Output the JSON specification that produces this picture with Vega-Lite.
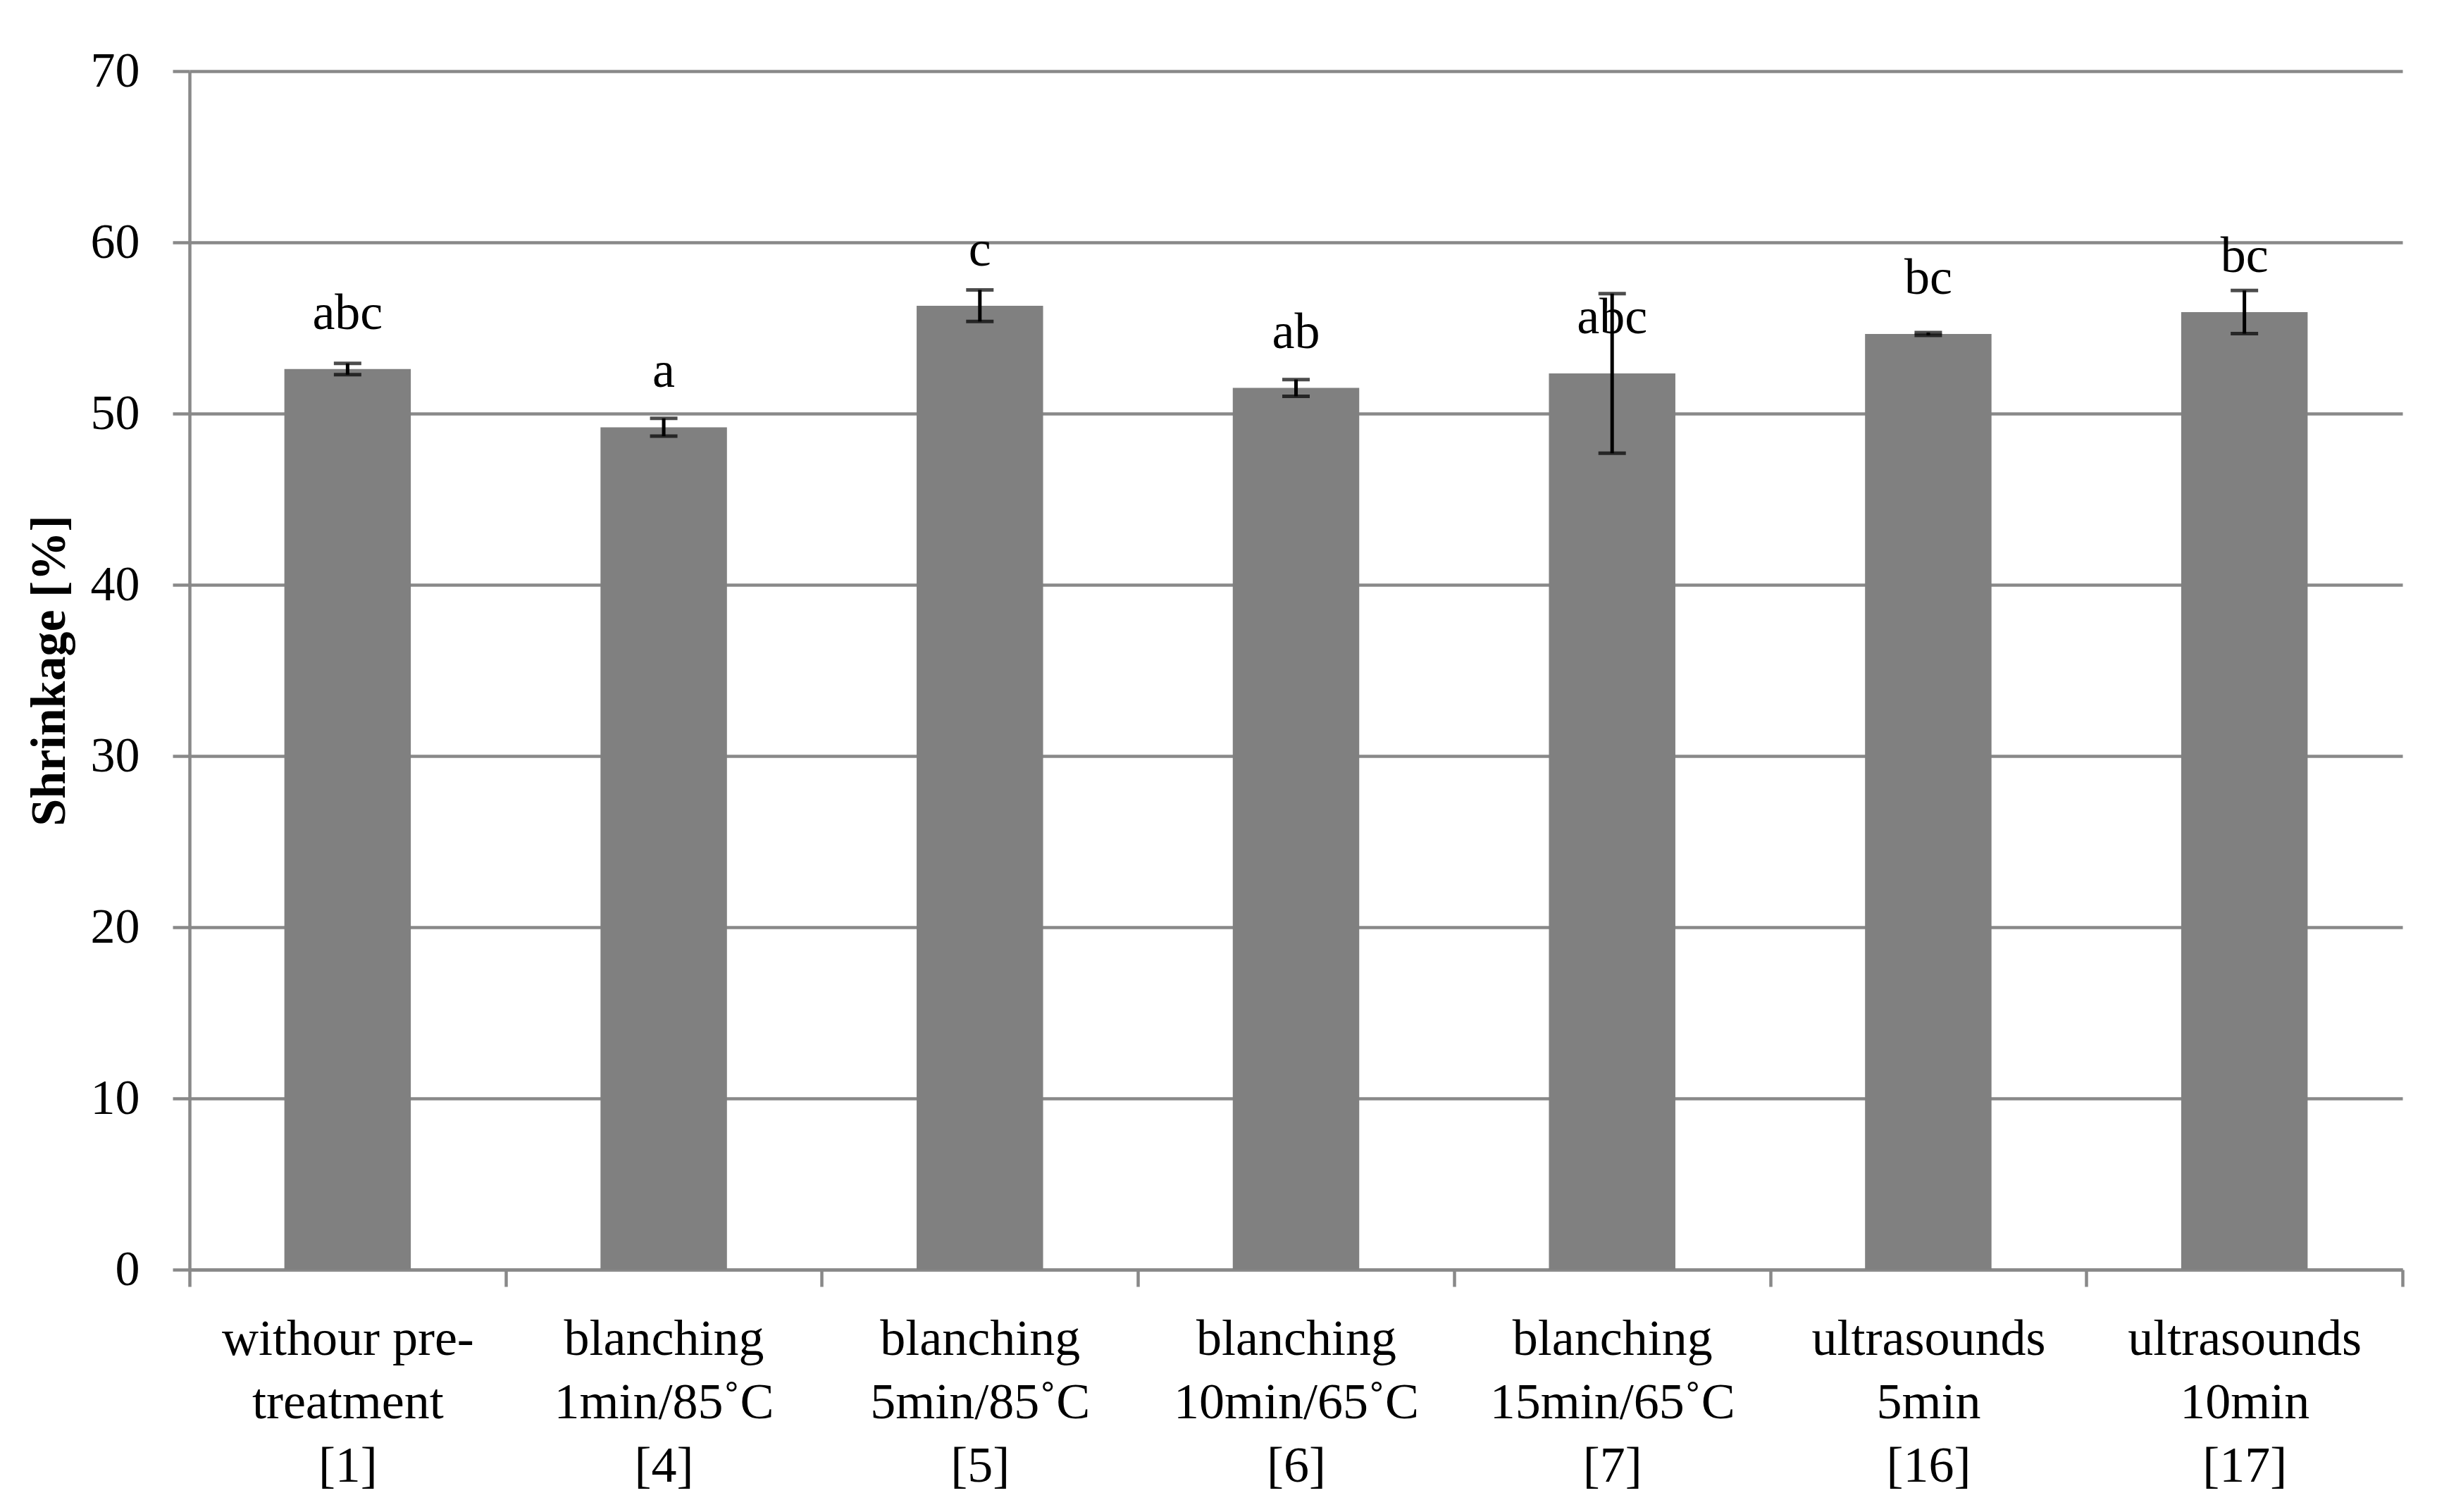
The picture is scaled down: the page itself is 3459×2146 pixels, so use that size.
{
  "$schema": "https://vega.github.io/schema/vega-lite/v6.json",
  "width": 3141,
  "height": 1701,
  "autosize": "none",
  "padding": {"left": 269, "top": 101, "right": 49, "bottom": 344},
  "background": "white",
  "config": {"view": {"stroke": null}, "font": "Liberation Serif"},
  "data": {
    "values": [
      {"treatment": "withour pre-\ntreatment\n[1]", "shrinkage": 52.6, "sd": 0.33, "group": "abc"},
      {"treatment": "blanching\n1min/85˚C\n[4]", "shrinkage": 49.2, "sd": 0.52, "group": "a"},
      {"treatment": "blanching\n5min/85˚C\n[5]", "shrinkage": 56.3, "sd": 0.92, "group": "c"},
      {"treatment": "blanching\n10min/65˚C\n[6]", "shrinkage": 51.5, "sd": 0.49, "group": "ab"},
      {"treatment": "blanching\n15min/65˚C\n[7]", "shrinkage": 52.35, "sd": 4.66, "group": "abc"},
      {"treatment": "ultrasounds\n5min\n[16]", "shrinkage": 54.65, "sd": 0.08, "group": "bc"},
      {"treatment": "ultrasounds\n10min\n[17]", "shrinkage": 55.93, "sd": 1.26, "group": "bc"}
    ]
  },
  "encoding": {
    "x": {
      "field": "treatment",
      "type": "nominal",
      "sort": null,
      "scale": {"paddingInner": 0, "paddingOuter": 0},
      "axis": {
        "title": null,
        "labelAngle": 0,
        "tickBand": "extent",
        "domainColor": "#898989",
        "domainWidth": 4.5,
        "tickColor": "#898989",
        "tickWidth": 4.5,
        "tickSize": 24,
        "labelPadding": 39,
        "labelFont": "Liberation Serif",
        "labelFontSize": 72,
        "labelLineHeight": 90,
        "labelColor": "black",
        "labelLimit": 1000,
        "labelOverlap": false,
        "labelExpr": "split(datum.label, '\\n')"
      }
    },
    "y": {
      "field": "shrinkage",
      "type": "quantitative",
      "title": "Shrinkage [%]",
      "scale": {"domain": [0, 70]},
      "axis": {
        "values": [0, 10, 20, 30, 40, 50, 60, 70],
        "grid": true,
        "gridColor": "#898989",
        "gridWidth": 4.5,
        "domainColor": "#898989",
        "domainWidth": 4.5,
        "tickColor": "#898989",
        "tickWidth": 4.5,
        "tickSize": 24,
        "labelPadding": 47,
        "labelFont": "Liberation Serif",
        "labelFontSize": 70,
        "labelColor": "black",
        "titleFont": "Liberation Serif",
        "titleFontSize": 70,
        "titleFontWeight": "bold",
        "titleColor": "black",
        "titlePadding": 22
      }
    }
  },
  "layer": [
    {"mark": {"type": "bar", "color": "#808080", "width": {"band": 0.4}}},
    {
      "mark": {"type": "errorbar", "color": "black", "thickness": 5, "ticks": {"size": 39, "thickness": 5, "color": "black"}},
      "encoding": {"yError": {"field": "sd"}}
    },
    {
      "mark": {"type": "text", "dy": -57, "baseline": "alphabetic", "fontSize": 72, "font": "Liberation Serif", "color": "black"},
      "encoding": {"text": {"field": "group", "type": "nominal"}}
    }
  ]
}
